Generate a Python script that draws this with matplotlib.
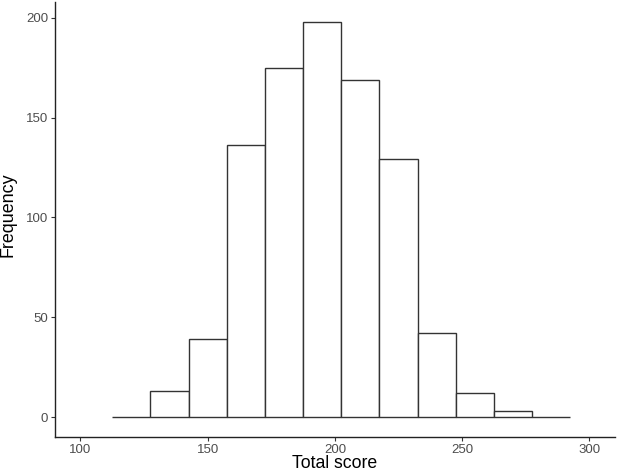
import numpy as np
import matplotlib.pyplot as plt

plt.rcParams['font.family'] = ['Liberation Sans', 'DejaVu Sans']

bin_left = [112.5, 127.5, 142.5, 157.5, 172.5, 187.5, 202.5, 217.5, 232.5, 247.5, 262.5, 277.5]
counts = [0, 13, 39, 136, 175, 198, 169, 129, 42, 12, 3, 0]
bin_width = 15

fig = plt.figure(figsize=(6.18, 4.71), dpi=100)
ax = fig.add_axes([0.089, 0.072, 0.906, 0.924])

ax.bar(bin_left, counts, width=bin_width, align='edge',
       facecolor='white', edgecolor='#333333', linewidth=1.0)

ax.set_xlim(90, 310)
ax.set_ylim(-10, 207.9)
ax.set_xticks([100, 150, 200, 250, 300])
ax.set_yticks([0, 50, 100, 150, 200])

for s in ['top', 'right']:
    ax.spines[s].set_visible(False)
for s in ['left', 'bottom']:
    ax.spines[s].set_color('#222222')
    ax.spines[s].set_linewidth(1.0)

ax.tick_params(colors='#333333', labelcolor='#4d4d4d', labelsize=9.5,
               length=3, width=0.8, pad=2)
ax.set_xlabel('Total score', fontsize=12.7)
ax.set_ylabel('Frequency', fontsize=12.9)
ax.xaxis.set_label_coords(0.5, -0.041)
ax.yaxis.set_label_coords(-0.068, 0.511)

fig.savefig('out.png', dpi=100)
